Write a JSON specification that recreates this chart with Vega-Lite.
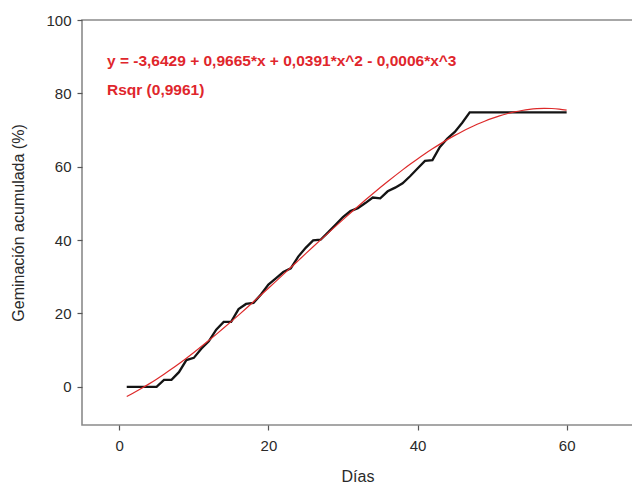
{
  "$schema": "https://vega.github.io/schema/vega-lite/v6.json",
  "autosize": {"type": "none"},
  "padding": {"left": 82, "top": 20, "right": 0, "bottom": 62},
  "width": 551,
  "height": 405,
  "background": "white",
  "config": {
    "view": {"stroke": "#8a8a8a", "strokeWidth": 1.6},
    "axis": {
      "domain": false,
      "grid": false,
      "labelFont": "Liberation Sans",
      "labelFontSize": 15,
      "labelColor": "#2a2a2a",
      "tickColor": "#555555",
      "tickSize": 5,
      "tickWidth": 1.2,
      "titleFont": "Liberation Sans",
      "titleFontSize": 16,
      "titleFontWeight": "normal",
      "titleColor": "#2a2a2a"
    }
  },
  "datasets": {
    "obs": [
      {"dia": 1, "germ": 0}, {"dia": 2, "germ": 0}, {"dia": 3, "germ": 0}, {"dia": 4, "germ": 0},
      {"dia": 5, "germ": 0}, {"dia": 6, "germ": 1.9}, {"dia": 7, "germ": 1.9}, {"dia": 8, "germ": 4},
      {"dia": 9, "germ": 7.3}, {"dia": 10, "germ": 7.9}, {"dia": 11, "germ": 10.4}, {"dia": 12, "germ": 12.4},
      {"dia": 13, "germ": 15.6}, {"dia": 14, "germ": 17.7}, {"dia": 15, "germ": 17.7}, {"dia": 16, "germ": 21.2},
      {"dia": 17, "germ": 22.6}, {"dia": 18, "germ": 22.9}, {"dia": 19, "germ": 25.2}, {"dia": 20, "germ": 27.9},
      {"dia": 21, "germ": 29.6}, {"dia": 22, "germ": 31.3}, {"dia": 23, "germ": 32.3}, {"dia": 24, "germ": 35.5},
      {"dia": 25, "germ": 37.9}, {"dia": 26, "germ": 39.9}, {"dia": 27, "germ": 40.1}, {"dia": 28, "germ": 42.1},
      {"dia": 29, "germ": 44.2}, {"dia": 30, "germ": 46.3}, {"dia": 31, "germ": 47.9}, {"dia": 32, "germ": 48.7},
      {"dia": 33, "germ": 50.1}, {"dia": 34, "germ": 51.6}, {"dia": 35, "germ": 51.4}, {"dia": 36, "germ": 53.3},
      {"dia": 37, "germ": 54.3}, {"dia": 38, "germ": 55.5}, {"dia": 39, "germ": 57.4}, {"dia": 40, "germ": 59.5},
      {"dia": 41, "germ": 61.6}, {"dia": 42, "germ": 61.8}, {"dia": 43, "germ": 65.4}, {"dia": 44, "germ": 67.7},
      {"dia": 45, "germ": 69.5}, {"dia": 46, "germ": 72}, {"dia": 47, "germ": 74.8}, {"dia": 48, "germ": 74.8},
      {"dia": 49, "germ": 74.8}, {"dia": 50, "germ": 74.8}, {"dia": 51, "germ": 74.8}, {"dia": 52, "germ": 74.8},
      {"dia": 53, "germ": 74.8}, {"dia": 54, "germ": 74.8}, {"dia": 55, "germ": 74.8}, {"dia": 56, "germ": 74.8},
      {"dia": 57, "germ": 74.8}, {"dia": 58, "germ": 74.8}, {"dia": 59, "germ": 74.8}, {"dia": 60, "germ": 74.8}
    ],
    "fit": [
      {"dia": 1, "germ": -2.638}, {"dia": 2, "germ": -1.558}, {"dia": 3, "germ": -0.406}, {"dia": 4, "germ": 0.813},
      {"dia": 5, "germ": 2.098}, {"dia": 6, "germ": 3.444}, {"dia": 7, "germ": 4.848}, {"dia": 8, "germ": 6.308},
      {"dia": 9, "germ": 7.819}, {"dia": 10, "germ": 9.378}, {"dia": 11, "germ": 10.982}, {"dia": 12, "germ": 12.628},
      {"dia": 13, "germ": 14.312}, {"dia": 14, "germ": 16.031}, {"dia": 15, "germ": 17.782}, {"dia": 16, "germ": 19.561},
      {"dia": 17, "germ": 21.366}, {"dia": 18, "germ": 23.192}, {"dia": 19, "germ": 25.036}, {"dia": 20, "germ": 26.895},
      {"dia": 21, "germ": 28.766}, {"dia": 22, "germ": 30.646}, {"dia": 23, "germ": 32.53}, {"dia": 24, "germ": 34.416},
      {"dia": 25, "germ": 36.301}, {"dia": 26, "germ": 38.181}, {"dia": 27, "germ": 40.052}, {"dia": 28, "germ": 41.912},
      {"dia": 29, "germ": 43.757}, {"dia": 30, "germ": 45.584}, {"dia": 31, "germ": 47.389}, {"dia": 32, "germ": 49.17},
      {"dia": 33, "germ": 50.922}, {"dia": 34, "germ": 52.643}, {"dia": 35, "germ": 54.329}, {"dia": 36, "germ": 55.977},
      {"dia": 37, "germ": 57.584}, {"dia": 38, "germ": 59.145}, {"dia": 39, "germ": 60.659}, {"dia": 40, "germ": 62.121},
      {"dia": 41, "germ": 63.528}, {"dia": 42, "germ": 64.878}, {"dia": 43, "germ": 66.166}, {"dia": 44, "germ": 67.389},
      {"dia": 45, "germ": 68.544}, {"dia": 46, "germ": 69.628}, {"dia": 47, "germ": 70.637}, {"dia": 48, "germ": 71.568},
      {"dia": 49, "germ": 72.417}, {"dia": 50, "germ": 73.182}, {"dia": 51, "germ": 73.859}, {"dia": 52, "germ": 74.445},
      {"dia": 53, "germ": 74.937}, {"dia": 54, "germ": 75.331}, {"dia": 55, "germ": 75.625}, {"dia": 56, "germ": 75.815},
      {"dia": 57, "germ": 75.897}, {"dia": 58, "germ": 75.869}, {"dia": 59, "germ": 75.727}, {"dia": 60, "germ": 75.443}
    ],
    "notes": [
      {"dia": -1.65, "germ": 87.5, "label": "y = -3,6429 + 0,9665*x + 0,0391*x^2 - 0,0006*x^3"},
      {"dia": -1.65, "germ": 79.6, "label": "Rsqr (0,9961)"}
    ]
  },
  "layer": [
    {
      "data": {"name": "obs"},
      "mark": {"type": "line", "color": "#141414", "strokeWidth": 2.3, "interpolate": "linear"},
      "encoding": {
        "x": {"field": "dia", "type": "quantitative", "scale": {"domain": [-5, 68.9], "nice": false, "zero": false},
              "axis": {"values": [0, 20, 40, 60], "title": "Días", "labelPadding": 8, "titlePadding": 15}},
        "y": {"field": "germ", "type": "quantitative", "scale": {"domain": [-10.4, 100], "nice": false, "zero": false},
              "axis": {"values": [0, 20, 40, 60, 80, 100], "title": "Geminación acumulada (%)", "labelPadding": 6, "titlePadding": 19}}
      }
    },
    {
      "data": {"name": "fit"},
      "mark": {"type": "line", "color": "#dd2a2a", "strokeWidth": 1.2, "interpolate": "monotone"},
      "encoding": {
        "x": {"field": "dia", "type": "quantitative"},
        "y": {"field": "germ", "type": "quantitative"}
      }
    },
    {
      "data": {"name": "notes"},
      "mark": {"type": "text", "align": "left", "baseline": "alphabetic", "font": "Liberation Sans", "fontSize": 15.5, "fontWeight": "bold", "color": "#e0262c"},
      "encoding": {
        "x": {"field": "dia", "type": "quantitative"},
        "y": {"field": "germ", "type": "quantitative"},
        "text": {"field": "label"}
      }
    }
  ]
}
